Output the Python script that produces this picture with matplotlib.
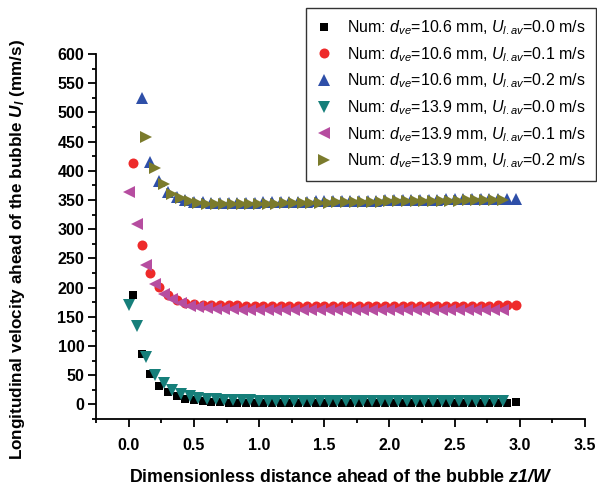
import matplotlib
matplotlib.use("Agg")
import matplotlib.pyplot as plt
from matplotlib.ticker import MultipleLocator

plt.rcParams['font.family'] = ['Liberation Sans', 'DejaVu Sans']
plt.rcParams['mathtext.fontset'] = 'custom'
plt.rcParams['mathtext.rm'] = 'Liberation Sans'
plt.rcParams['mathtext.it'] = 'Liberation Sans:italic'
plt.rcParams['mathtext.bf'] = 'Liberation Sans:bold'
plt.rcParams['mathtext.bfit'] = 'Liberation Sans:italic:bold'

# x positions (z1/W)
x_a = [0.033, 0.1, 0.167, 0.233, 0.3, 0.367, 0.433, 0.5, 0.567, 0.633, 0.7, 0.767,
       0.833, 0.9, 0.967, 1.033, 1.1, 1.167, 1.233, 1.3, 1.367, 1.433, 1.5, 1.567,
       1.633, 1.7, 1.767, 1.833, 1.9, 1.967, 2.033, 2.1, 2.167, 2.233, 2.3, 2.367,
       2.433, 2.5, 2.567, 2.633, 2.7, 2.767, 2.833, 2.9, 2.967]
x_b = [0.1, 0.167, 0.233, 0.3, 0.367, 0.433, 0.5, 0.567, 0.633, 0.7, 0.767,
       0.833, 0.9, 0.967, 1.033, 1.1, 1.167, 1.233, 1.3, 1.367, 1.433, 1.5, 1.567,
       1.633, 1.7, 1.767, 1.833, 1.9, 1.967, 2.033, 2.1, 2.167, 2.233, 2.3, 2.367,
       2.433, 2.5, 2.567, 2.633, 2.7, 2.767, 2.833, 2.9, 2.967]
x_c = [0.0, 0.067, 0.133, 0.2, 0.267, 0.333, 0.4, 0.467, 0.533, 0.6, 0.667, 0.733,
       0.8, 0.867, 0.933, 1.0, 1.067, 1.133, 1.2, 1.267, 1.333, 1.4, 1.467, 1.533,
       1.6, 1.667, 1.733, 1.8, 1.867, 1.933, 2.0, 2.067, 2.133, 2.2, 2.267, 2.333,
       2.4, 2.467, 2.533, 2.6, 2.667, 2.733, 2.8, 2.867]
x_d = [0.133, 0.2, 0.267, 0.333, 0.4, 0.467, 0.533, 0.6, 0.667, 0.733,
       0.8, 0.867, 0.933, 1.0, 1.067, 1.133, 1.2, 1.267, 1.333, 1.4, 1.467, 1.533,
       1.6, 1.667, 1.733, 1.8, 1.867, 1.933, 2.0, 2.067, 2.133, 2.2, 2.267, 2.333,
       2.4, 2.467, 2.533, 2.6, 2.667, 2.733, 2.8, 2.867]

# velocities (mm/s)
u_106_00 = [188, 87, 52, 32, 22, 15, 10, 7, 5, 4, 3.5, 3, 3, 2.5, 2.5, 2.5, 2.5, 2.5,
            2.5, 2.5, 2.5, 2.5, 2.5, 2.5, 2.5, 2.5, 2.5, 2.5, 2.5, 2.5, 2.5, 2.5, 2.5,
            2.5, 2.5, 2.5, 2.5, 2.5, 2.5, 2.5, 2.5, 2.5, 3, 3, 3.5]
u_106_01 = [414, 273, 225, 201, 187, 179, 174, 172, 171, 170, 170, 169.5, 169.5, 169,
            169, 169, 169, 169, 169, 169, 169, 169, 169, 169, 169, 169, 169, 169, 169,
            169, 169, 169, 169, 169, 169, 169, 169, 169, 169, 169, 169, 169, 169.5,
            169.5, 170]
u_106_02 = [525, 416, 383, 364, 355, 350, 347, 346, 345, 345, 345, 345, 345.5, 345.5,
            346, 346, 346.5, 346.5, 347, 347, 347.5, 347.5, 348, 348, 348.5, 348.5,
            349, 349, 349.5, 349.5, 350, 350, 350, 350.5, 350.5, 351, 351, 351, 351.5,
            351.5, 351.5, 352, 352, 352]
u_139_00 = [171, 134, 81, 51, 36, 25, 18, 14, 11, 9.5, 8.5, 8, 7.5, 7, 7, 6.5, 6.5,
            6.5, 6, 6, 6, 6, 6, 6, 6, 6, 6, 6, 6, 6, 6, 6, 6, 6, 6, 6, 6, 6, 6, 6, 6,
            6, 6, 6]
u_139_01 = [363, 309, 239, 206, 189, 180, 173, 169, 167, 165, 164, 163, 163, 162.5,
            162, 162, 162, 161.5, 161.5, 161.5, 161, 161, 161, 161, 161, 161, 161, 161,
            161, 161, 161, 161, 161, 161, 161, 161, 161, 161, 161, 161, 161, 161, 161,
            161]
u_139_02 = [458, 405, 377, 361, 353, 348, 345, 344, 343, 343, 343, 343, 343.5, 343.5,
            344, 344, 344.5, 344.5, 345, 345, 345.5, 345.5, 346, 346, 346.5, 346.5,
            347, 347, 347.5, 347.5, 348, 348, 348.5, 348.5, 349, 349, 349, 349.5,
            349.5, 350, 350, 350]

labels = [
    r'Num: $d_{ve}$=10.6 mm, $U_{l.av}$=0.0 m/s',
    r'Num: $d_{ve}$=10.6 mm, $U_{l.av}$=0.1 m/s',
    r'Num: $d_{ve}$=10.6 mm, $U_{l.av}$=0.2 m/s',
    r'Num: $d_{ve}$=13.9 mm, $U_{l.av}$=0.0 m/s',
    r'Num: $d_{ve}$=13.9 mm, $U_{l.av}$=0.1 m/s',
    r'Num: $d_{ve}$=13.9 mm, $U_{l.av}$=0.2 m/s',
]

fig = plt.figure(figsize=(5.97, 4.87), dpi=100)
ax = fig.add_axes([0.161, 0.1396, 0.819, 0.7494])

ax.plot(x_a, u_106_00, 's', color='#000000', ms=6.3, mew=0, label=labels[0])
ax.plot(x_a, u_106_01, 'o', color='#EE2A2A', ms=7.2, mew=0, label=labels[1])
ax.plot(x_b, u_106_02, '^', color='#2E4FA8', ms=8.3, mew=0, label=labels[2])
ax.plot(x_c, u_139_00, 'v', color='#167F7A', ms=8.3, mew=0, label=labels[3])
ax.plot(x_c, u_139_01, '<', color='#B64DA0', ms=8.3, mew=0, label=labels[4])
ax.plot(x_d, u_139_02, '>', color='#7B7B2C', ms=8.3, mew=0, label=labels[5])

ax.set_xlim(-0.25, 3.5)
ax.set_ylim(-25, 600)
ax.xaxis.set_minor_locator(MultipleLocator(0.25))
ax.yaxis.set_major_locator(MultipleLocator(50))
ax.yaxis.set_minor_locator(MultipleLocator(25))
ax.set_xticks([0, 0.5, 1.0, 1.5, 2.0, 2.5, 3.0, 3.5])
ax.set_xticklabels(['0.0', '0.5', '1.0', '1.5', '2.0', '2.5', '3.0', '3.5'])

for side in ['top', 'right']:
    ax.spines[side].set_visible(False)
for side in ['left', 'bottom']:
    ax.spines[side].set_linewidth(1.3)
ax.tick_params(which='major', direction='out', length=5.5, width=1.3, labelsize=11.5)
ax.tick_params(axis='y', which='major', pad=3)
ax.tick_params(axis='x', which='major', pad=8)
ax.tick_params(which='minor', direction='out', length=3, width=1.3)
for lab in ax.get_xticklabels() + ax.get_yticklabels():
    lab.set_fontweight('bold')

ax.set_xlabel(r'Dimensionless distance ahead of the bubble $\mathbfit{z1/W}$',
              fontsize=12.8, fontweight='bold')
ax.xaxis.set_label_coords(0.5, -0.136)
ax.set_ylabel(r'Longitudinal velocity ahead of the bubble $\mathbfit{U}_{\mathbfit{l}}$ (mm/s)',
              fontsize=12.3, fontweight='bold')
ax.yaxis.set_label_coords(-0.142, 0.463)

leg = fig.legend(loc='upper right', bbox_to_anchor=(0.998, 0.984), fontsize=11.5,
                 frameon=True, fancybox=False, edgecolor='#333333', framealpha=1,
                 handlelength=1.0, handletextpad=0.9, labelspacing=0.5,
                 borderpad=0.65, borderaxespad=0)
leg.get_frame().set_linewidth(1.0)

fig.savefig('out.png', dpi=100)
